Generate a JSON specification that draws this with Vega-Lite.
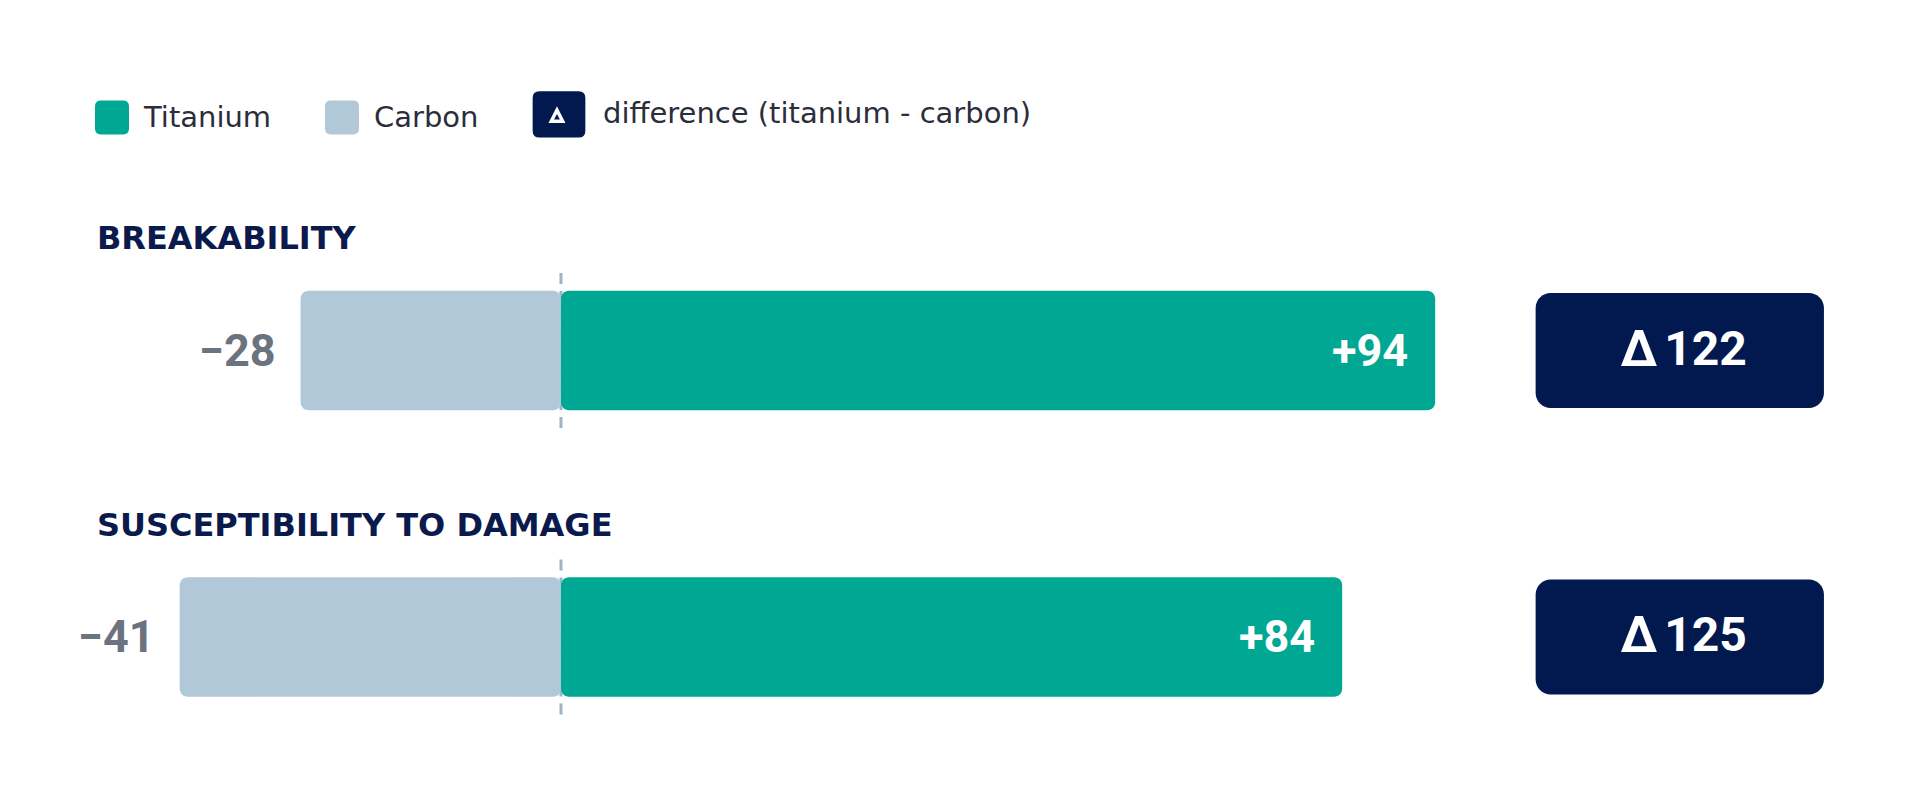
{
  "$schema": "https://vega.github.io/schema/vega-lite/v6.json",
  "width": 1920,
  "height": 793,
  "autosize": {"type": "none"},
  "padding": 0,
  "background": "white",
  "config": {"view": {"stroke": null}},
  "datasets": {
    "scores": [
      {"metric": "BREAKABILITY", "series": "Carbon", "value": -28},
      {"metric": "BREAKABILITY", "series": "Titanium", "value": 94},
      {"metric": "SUSCEPTIBILITY TO DAMAGE", "series": "Carbon", "value": -41},
      {"metric": "SUSCEPTIBILITY TO DAMAGE", "series": "Titanium", "value": 84}
    ],
    "diffs": [
      {"metric": "BREAKABILITY", "diff": 122},
      {"metric": "SUSCEPTIBILITY TO DAMAGE", "diff": 125}
    ]
  },
  "encoding": {
    "y": {
      "field": "metric",
      "type": "nominal",
      "axis": null,
      "sort": null,
      "scale": {"paddingInner": 0.459, "paddingOuter": 0.6134, "align": 0.7767}
    }
  },
  "layer": [
    {
      "data": {"name": "diffs"},
      "mark": {"type": "rule", "strokeDash": [11, 7], "strokeWidth": 3, "color": "#a2b4c3"},
      "encoding": {
        "x": {"datum": 0, "type": "quantitative", "scale": {"domain": [-60.32, 146.13], "nice": false, "zero": false}, "axis": null},
        "y": {"field": "metric", "type": "nominal", "bandPosition": 0},
        "y2": {"field": "metric", "bandPosition": 1}
      }
    },
    {
      "data": {"name": "scores"},
      "mark": {"type": "bar", "cornerRadius": 8, "height": {"band": 0.771}},
      "encoding": {
        "x": {"field": "value", "type": "quantitative", "stack": null},
        "color": {
          "field": "series",
          "type": "nominal",
          "scale": {
            "domain": ["Titanium", "Carbon", "difference (titanium - carbon)"],
            "range": ["#00a894", "#b0c8d8", "#01194f"]
          },
          "legend": {
            "title": null,
            "orient": "none",
            "legendX": 95,
            "legendY": 97,
            "direction": "horizontal",
            "padding": 0,
            "symbolSize": 1156,
            "symbolStrokeWidth": 0,
            "symbolOpacity": 1,
            "symbolType": "M-0.65,-1L0.65,-1Q1,-1 1,-0.65L1,0.65Q1,1 0.65,1L-0.65,1Q-1,1 -1,0.65L-1,-0.65Q-1,-1 -0.65,-1Z",
            "labelFont": "DejaVu Sans",
            "labelFontSize": 29,
            "labelColor": "#2b2d3a",
            "labelOffset": 15,
            "labelLimit": 700,
            "columnPadding": 53,
            "encode": {
              "symbols": {
                "update": {
                  "shape": {"signal": "datum.value === 'difference (titanium - carbon)' ? 'M-1.15,-1.36L1.15,-1.36Q1.55,-1.36 1.55,-0.96L1.55,0.96Q1.55,1.36 1.15,1.36L-1.15,1.36Q-1.55,1.36 -1.55,0.96L-1.55,-0.96Q-1.55,-1.36 -1.15,-1.36ZM-0.12,-0.48L-0.62,0.5L0.38,0.5ZM-0.12,-0.02L0.05,0.3L-0.29,0.3Z' : 'M-0.65,-1L0.65,-1Q1,-1 1,-0.65L1,0.65Q1,1 0.65,1L-0.65,1Q-1,1 -1,0.65L-1,-0.65Q-1,-1 -0.65,-1Z'"}
                }
              },
              "labels": {
                "update": {
                  "dx": {"signal": "datum.value === 'difference (titanium - carbon)' ? 12 : 0"}
                }
              }
            }
          }
        }
      }
    },
    {
      "data": {"name": "scores"},
      "transform": [{"filter": "datum.series === 'Carbon'"}],
      "mark": {"type": "text", "align": "right", "baseline": "middle", "dx": -25, "dy": 1, "font": "Roboto", "fontWeight": "bold", "fontSize": 45, "color": "#6b7280"},
      "encoding": {
        "x": {"field": "value", "type": "quantitative"},
        "text": {"field": "value", "type": "quantitative", "format": "+d"}
      }
    },
    {
      "data": {"name": "scores"},
      "transform": [{"filter": "datum.series === 'Titanium'"}],
      "mark": {"type": "text", "align": "right", "baseline": "middle", "dx": -27, "dy": 1, "font": "Roboto", "fontWeight": "bold", "fontSize": 45, "color": "#ffffff"},
      "encoding": {
        "x": {"field": "value", "type": "quantitative"},
        "text": {"field": "value", "type": "quantitative", "format": "+d"}
      }
    },
    {
      "data": {"name": "diffs"},
      "mark": {"type": "bar", "cornerRadius": 15, "height": {"band": 0.742}},
      "encoding": {
        "x": {"datum": 104.8, "type": "quantitative"},
        "x2": {"datum": 135.8},
        "color": {"datum": "difference (titanium - carbon)", "type": "nominal"}
      }
    },
    {
      "data": {"name": "diffs"},
      "mark": {"type": "text", "align": "right", "baseline": "middle", "dx": -4, "font": "Roboto", "fontWeight": "bold", "fontSize": 50, "color": "#ffffff", "text": "Δ"},
      "encoding": {
        "x": {"datum": 118.3, "type": "quantitative"}
      }
    },
    {
      "data": {"name": "diffs"},
      "mark": {"type": "text", "align": "left", "baseline": "middle", "dx": 3, "font": "Roboto", "fontWeight": "bold", "fontSize": 48, "color": "#ffffff"},
      "encoding": {
        "x": {"datum": 118.3, "type": "quantitative"},
        "text": {"field": "diff", "type": "quantitative"}
      }
    },
    {
      "data": {"name": "diffs"},
      "mark": {"type": "text", "align": "left", "baseline": "alphabetic", "dy": -24, "font": "DejaVu Sans", "fontWeight": "bold", "fontSize": 32, "color": "#0b1a4c"},
      "encoding": {
        "x": {"datum": -49.9, "type": "quantitative"},
        "y": {"field": "metric", "type": "nominal", "bandPosition": 0},
        "text": {"field": "metric", "type": "nominal"}
      }
    }
  ]
}
